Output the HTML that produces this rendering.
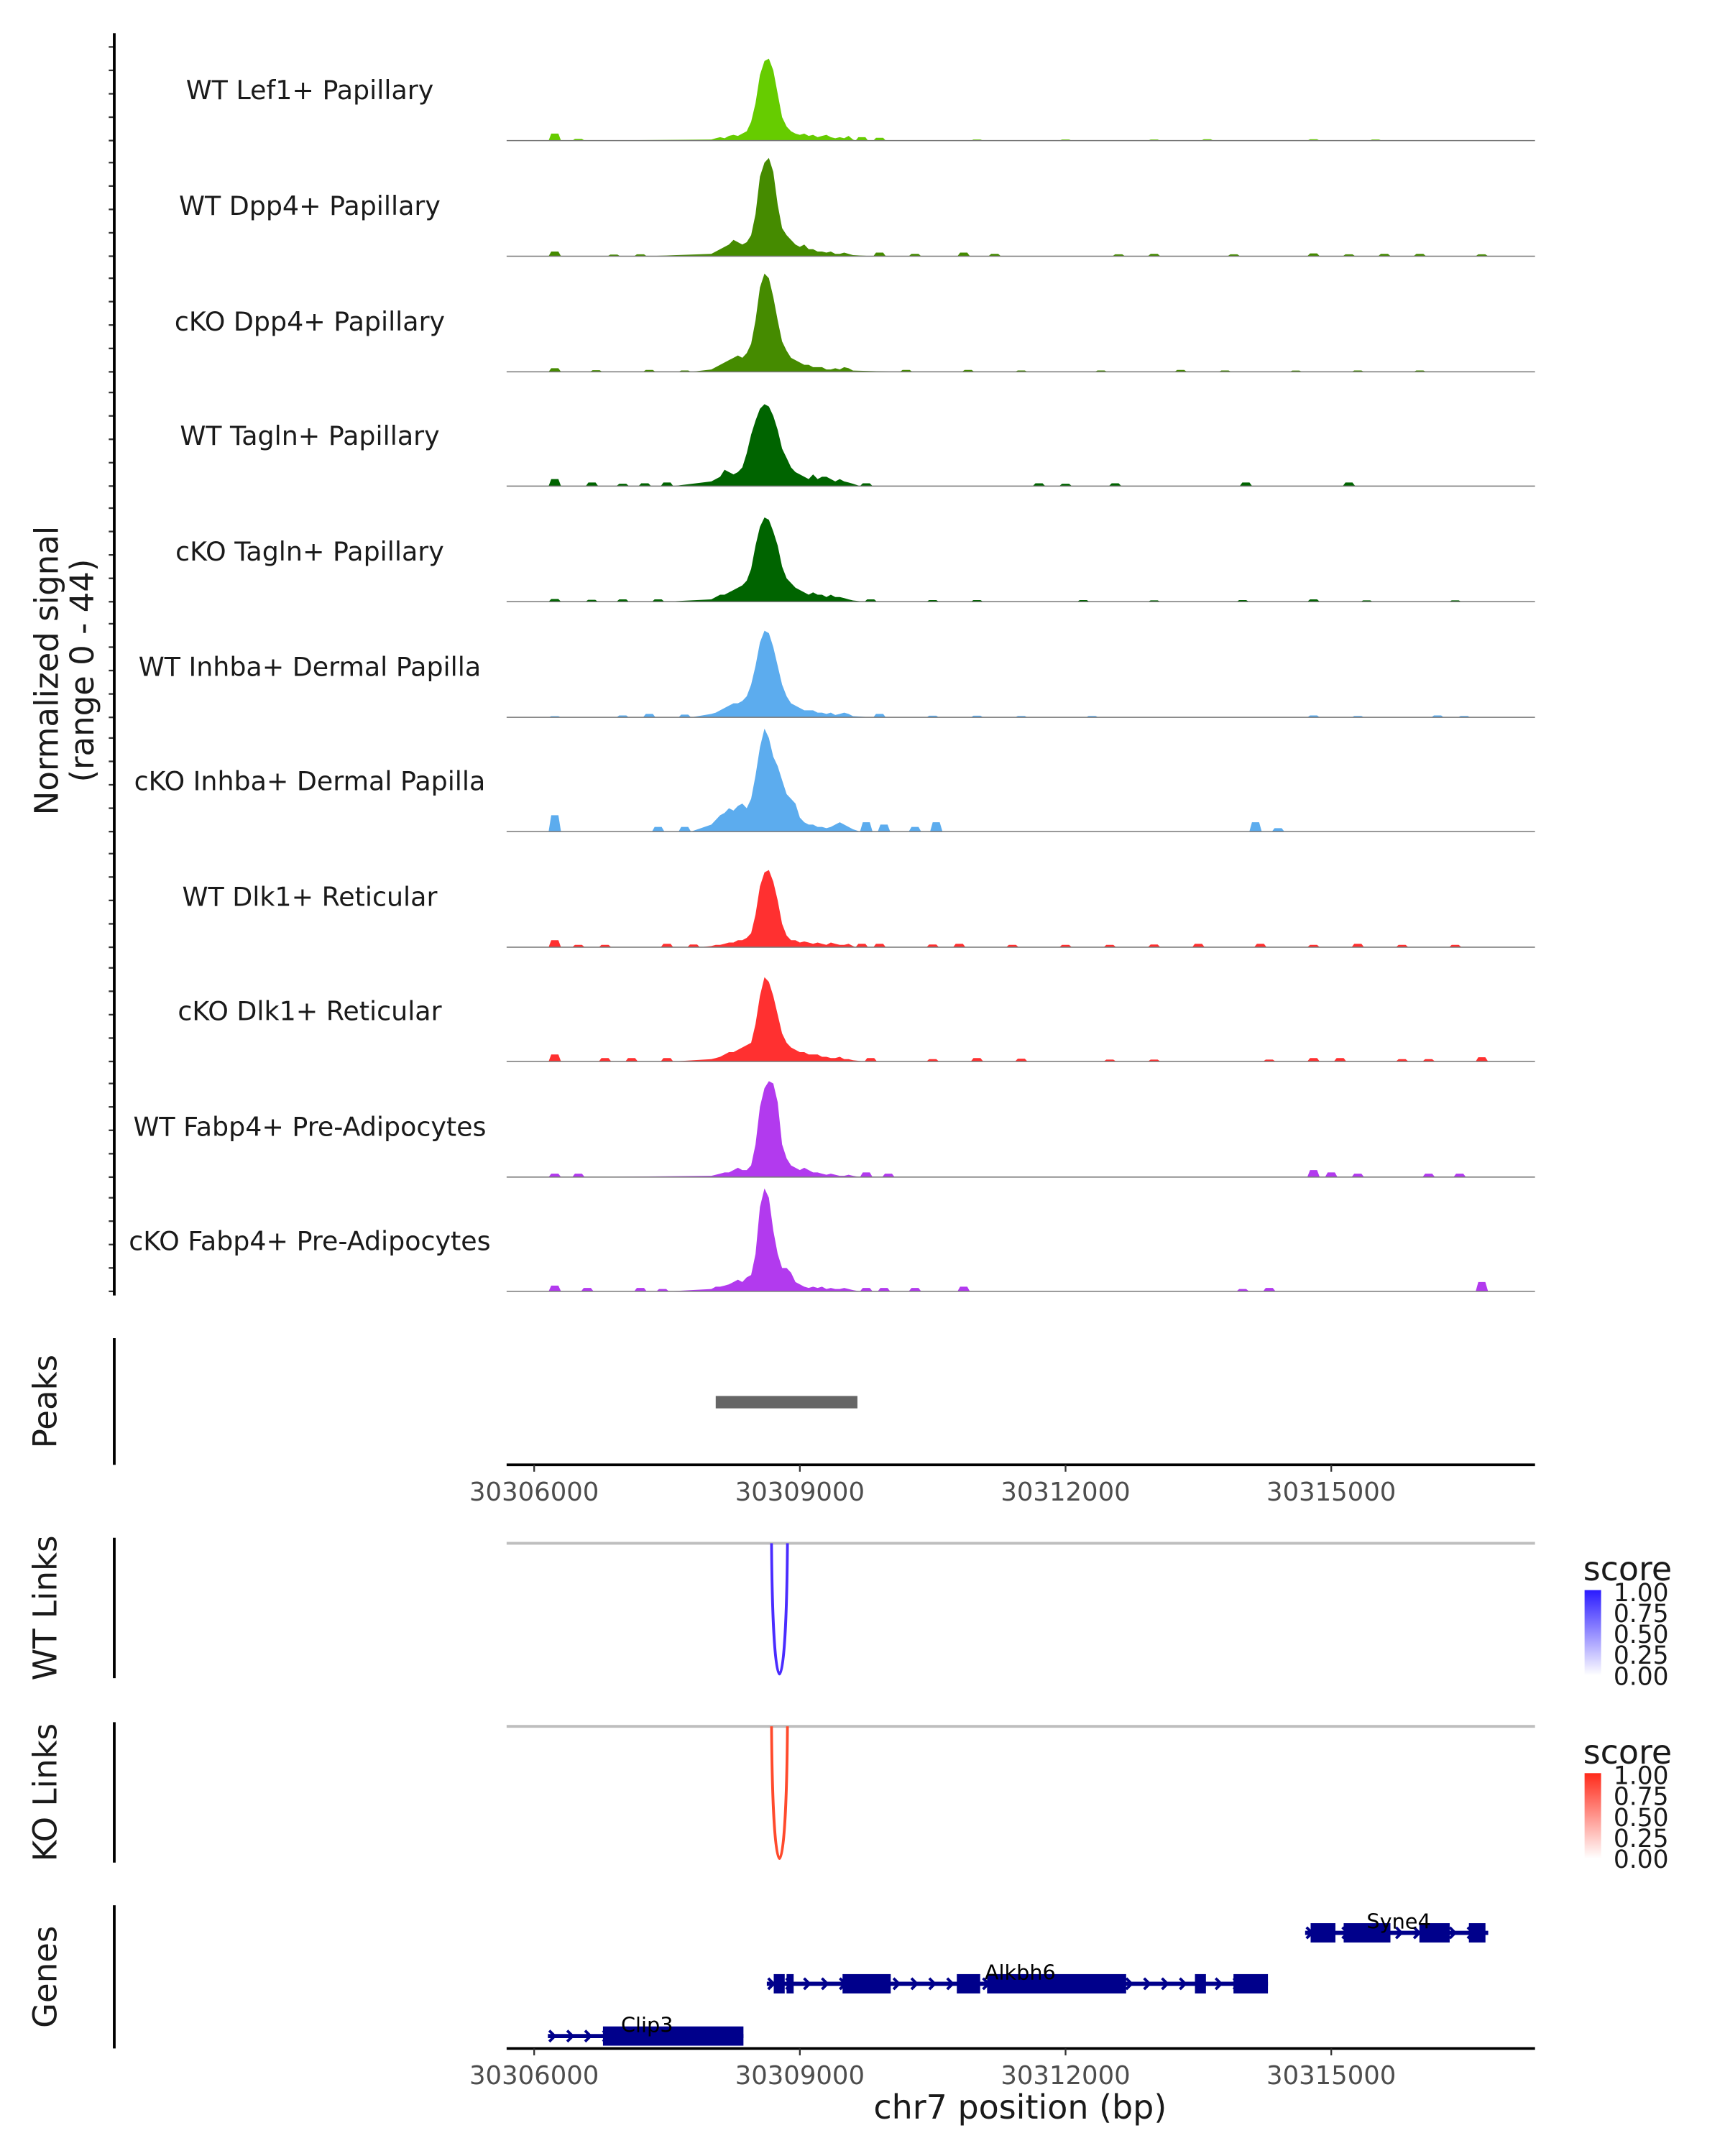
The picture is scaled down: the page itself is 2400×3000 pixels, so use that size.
<!DOCTYPE html>
<html><head><meta charset="utf-8"><style>
html,body{margin:0;padding:0;background:#fff}
svg{display:block}
text{font-family:"DejaVu Sans","Liberation Sans",sans-serif}
</style></head><body>
<svg id="chart" width="2400" height="3000" viewBox="0 0 1253 1566" xmlns="http://www.w3.org/2000/svg">
<rect width="1253" height="1566" fill="#fff"/>
<g id="tracks"></g>
<g id="axes"></g>
<g id="genes"></g>
<defs>
<linearGradient id="gb" x1="0" y1="1" x2="0" y2="0"><stop offset="0" stop-color="#ffffff"/><stop offset="1" stop-color="#2a1aff"/></linearGradient>
<linearGradient id="gr" x1="0" y1="1" x2="0" y2="0"><stop offset="0" stop-color="#ffffff"/><stop offset="1" stop-color="#ff2a1a"/></linearGradient>
</defs>
</svg>
<script>
// ---- data ----
const trackNames = ["WT Lef1+ Papillary","WT Dpp4+ Papillary","cKO Dpp4+ Papillary","WT Tagln+ Papillary","cKO Tagln+ Papillary","WT Inhba+ Dermal Papilla","cKO Inhba+ Dermal Papilla","WT Dlk1+ Reticular","cKO Dlk1+ Reticular","WT Fabp4+ Pre-Adipocytes","cKO Fabp4+ Pre-Adipocytes"];
const trackColors = ["#66cc00","#458b00","#458b00","#006400","#006400","#5cacee","#5cacee","#ff3030","#ff3030","#b23aee","#b23aee"];
const peakStart = 30308000, peakStep = 50;
const peakValues = [
[0.5,1,1.5,1,2,2.5,2,3,4,8,16,28,34,35,30,20,10,6,4,3,2.5,3,2,2.5,1.5,2,2.5,1.5,1,1.5,1,2,0.5],
[1,2,3,4,5,7,6,5,6,9,18,34,40,42,36,22,12,9,7,5,4,5,3,3,2,2,1.5,2,1,1,1.5,1,0.5],
[1,2,3,4,5,6,7,6,8,12,22,36,42,40,32,22,13,9,6,5,4,3,3,2,2,2,1,1,1.5,1,2,1.5,0.5],
[2,3,4,7,6,5,6,8,14,22,28,33,35,34,30,24,16,12,8,6,5,4,3,5,3,4,4,3,2,3,2,1.5,1],
[1,2,3,3,4,5,6,7,9,14,24,32,36,35,30,24,15,10,8,6,5,4,3,4,3,3,2,3,2,2,1.5,1,0.5],
[1.5,2,3,4,5,6,6,7,9,14,22,32,37,36,30,22,14,9,6,5,4,3,3,3,2,2,1.5,2,1,1.5,2,1.5,0.5],
[3,5,7,8,10,9,11,12,10,14,24,36,44,40,32,28,22,16,14,12,6,4,3,3,2,2,1.5,2,3,4,3,2,1],
[0.5,1,1,1.5,2,2,3,3,4,6,14,26,32,33,28,20,10,5,3,3,2,2.5,2,1.5,2,1.5,1,2,1.5,1,1,1.5,0.5],
[1,1.5,2,3,4,4,5,6,7,8,16,28,36,34,28,20,12,8,6,5,4,4,3,3,3,2,2,1.5,1.5,2,1,1,0.5],
[0.5,1,1.5,2,2,3,4,3,3,5,14,30,38,41,40,32,14,8,5,4,3,4,3,2,2,1.5,1,1.5,1,0.5,0.5,1,0.5],
[1,2,2,2.5,3,4,5,4,6,7,16,36,44,40,26,16,10,10,8,4,3,2,1.5,2,1.5,2,1,1.5,1,1,1.5,1,0.5]
];
const bumpPositions = [
[30306233,30306500,30309700,30309900,30311000,30312000,30313000,30313600,30314800,30315500],
[30306233,30306900,30307200,30309900,30310300,30310850,30311200,30312600,30313000,30313900,30314800,30315200,30315600,30316000,30316700],
[30306233,30306700,30307300,30307700,30310200,30310900,30311500,30312400,30313300,30313800,30314600,30315300,30316000],
[30306233,30306653,30307000,30307250,30307500,30309750,30311700,30312000,30312560,30314036,30315200],
[30306233,30306650,30307000,30307400,30309800,30310500,30311000,30312200,30313000,30314000,30314800,30315400,30316400],
[30306233,30307000,30307300,30307700,30309900,30310500,30311000,30311500,30312300,30314800,30315300,30316200,30316500],
[30306233,30307400,30307700,30309750,30309950,30310300,30310540,30314145,30314400],
[30306233,30306500,30306800,30307500,30307800,30309700,30309900,30310500,30310800,30311400,30312000,30312500,30313000,30313500,30314200,30314800,30315300,30315800,30316400],
[30306233,30306800,30307100,30307500,30309800,30310500,30311000,30311500,30312500,30313000,30314300,30314800,30315100,30315800,30316100,30316700],
[30306233,30306500,30309750,30310000,30314800,30315000,30315300,30316100,30316450],
[30306233,30306600,30307200,30307450,30309750,30309950,30310300,30310850,30314000,30314300,30316700]
];
const bumpHeights = [
[3,0.7,1.5,1.2,0.5,0.5,0.5,0.6,0.6,0.5],
[2,0.7,0.8,1.5,1,1.5,1,0.8,1,0.8,1.2,0.8,1,1,0.8],
[1.5,0.7,0.8,0.6,0.8,0.8,0.6,0.6,0.8,0.6,0.5,0.6,0.6],
[3,1.5,1,1.2,1.5,1.2,1.2,1,1.2,1.5,1.5],
[1.2,0.8,1,1,1,0.7,0.7,0.7,0.6,0.7,1,0.6,0.6],
[0.5,0.8,1.5,1.2,1.5,0.7,0.7,0.6,0.6,0.8,0.6,0.8,0.6],
[7,2,2,4,3,2,4,4,1.5],
[3,1,1,1.5,1.2,1.5,1.5,1.2,1.5,1,1,1,1.2,1.5,1.5,1,1.5,1,1],
[3,1.5,1.5,1.5,1.5,1,1.5,1.2,0.8,0.8,0.8,1.5,1.5,1,1,1.8],
[1.5,1.5,2,1.5,3,2,1.5,1.5,1.5],
[2.5,1.5,1.5,1,1.5,1.5,1.5,2,1,1.5,4]
];
const xTicks = [30306000,30309000,30312000,30315000];
const peakRegions = [[30308050,30309650]];
const linkStarts = [30308680]; const linkEnds = [30308860];
const geneNames = ["Syne4","Alkbh6","Clip3"];
const geneSpans = [[30314705,30316772],[30308627,30314285],[30306155,30308363]];
const geneExons = [
[[30314767,30315047],[30315140,30315668],[30315995,30316337],[30316554,30316741]],
[[30308705,30308829],[30308850,30308930],[30309482,30310026],[30310772,30311036],[30311114,30312684],[30313461,30313585],[30313896,30314285]],
[[30306777,30308363]]
];
const legendTicks = ["1.00","0.75","0.50","0.25","0.00"];

// ---- scales ----
const X0=368, X1=1115;
const x = bp => 388 + (bp-30306000)*193/3000;
const baselines = [102,186,270,353,437,521,604,688,771,855,938];
const unitPx = 1.7;
const NS="http://www.w3.org/2000/svg";
function mk(tag, attrs, parent){const e=document.createElementNS(NS,tag);for(const k in attrs)e.setAttribute(k,attrs[k]);parent.appendChild(e);return e;}
const tg=document.getElementById('tracks'), ag=document.getElementById('axes'), gg=document.getElementById('genes');

trackNames.forEach((name,i)=>{
  const b=baselines[i];
  let pts=[];
  peakValues[i].forEach((v,j)=>pts.push([peakStart+j*peakStep,v]));
  bumpPositions[i].forEach((p,j)=>{const h=bumpHeights[i][j];pts.push([p-70,0],[p-40,h],[p+40,h],[p+70,0]);});
  pts.sort((a,b)=>a[0]-b[0]);
  let d=`M${x(pts[0][0]).toFixed(1)},${b}`;
  pts.forEach(p=>{d+=` L${x(p[0]).toFixed(1)},${(b-p[1]*unitPx).toFixed(1)}`;});
  d+=` L${x(pts[pts.length-1][0]).toFixed(1)},${b} Z`;
  const area=mk('path',{d:d,fill:trackColors[i]},tg);
  
  
  const bl=mk('line',{x1:X0,x2:X1,y1:b,y2:b,stroke:'#777','stroke-width':0.8},tg);
  
  
  const t=mk('text',{x:225,y:b-30,'text-anchor':'middle','font-size':19,fill:'#1a1a1a'},tg);
  t.textContent=name;
  
  
  for(let k=0;k<5;k++){const yy=b-k*17;const tk=mk('line',{x1:79,x2:83,y1:yy,y2:yy,stroke:'#333','stroke-width':1.2},ag);
    
    }
});
[[24,941],[972,1064],[1117,1219],[1251,1353],[1384,1488]].forEach(s=>{const l=mk('line',{x1:83,x2:83,y1:s[0],y2:s[1],stroke:'#000','stroke-width':2},ag);
  
  });
function rotText(txt,cx,cy,size,nm){const t=mk('text',{x:0,y:0,transform:`translate(${cx},${cy}) rotate(-90)`,'text-anchor':'middle','font-size':size,fill:'#1a1a1a'},ag);t.textContent=txt;
  
  return t;}
const yt=mk('text',{transform:'translate(42,487) rotate(-90)','text-anchor':'middle','font-size':23.5,fill:'#1a1a1a'},ag);


mk('tspan',{x:0,y:0},yt).textContent='Normalized signal';
mk('tspan',{x:0,y:26},yt).textContent='(range 0 - 44)';
rotText('Peaks',41,1018,23.5,'peaks-label');
rotText('WT Links',41,1168,23.5,'wt-links-label');
rotText('KO Links',41,1302,23.5,'ko-links-label');
rotText('Genes',41,1436,23.5,'genes-label');

peakRegions.forEach(r=>{const p=mk('rect',{x:x(r[0]),y:1014,width:x(r[1])-x(r[0]),height:9,fill:'#666'},ag);
  
  });
function xAxis(y,nm){const l=mk('line',{x1:X0,x2:X1,y1:y,y2:y,stroke:'#000','stroke-width':2},ag);
  
  
  xTicks.forEach(v=>{const tk=mk('line',{x1:x(v),x2:x(v),y1:y,y2:y+5,stroke:'#333','stroke-width':1.2},ag);
    
    
    const t=mk('text',{x:x(v),y:y+26,'text-anchor':'middle','font-size':18.5,fill:'#4d4d4d'},ag);t.textContent=v;
    
    });}
xAxis(1064,'peaks-x-axis');
xAxis(1488,'genes-x-axis');
const xt=mk('text',{x:741,y:1539,'text-anchor':'middle','font-size':24,fill:'#1a1a1a'},ag);xt.textContent='chr7 position (bp)';



function links(top,bottom,color,grad,nm){const l=mk('line',{x1:X0,x2:X1,y1:top,y2:top,stroke:'#bebebe','stroke-width':2},ag);
  
  
  linkStarts.forEach((s,i)=>{const a=x(s),b=x(linkEnds[i]);const c=top+(bottom-top)*4/3;
    const p=mk('path',{d:`M${a},${top} C${a+1},${c} ${b-1},${c} ${b},${top}`,fill:'none',stroke:color,'stroke-width':2},ag);
    
    });
  const lg=top+10;
  const st=mk('text',{x:1150,y:lg+17,'font-size':24,fill:'#1a1a1a'},ag);st.textContent='score';
  
  
  const cb=mk('rect',{x:1151,y:lg+24,width:12,height:62,fill:`url(#${grad})`},ag);
  
  
  legendTicks.forEach((t,k)=>{const yy=lg+25+k*15.2;const tx=mk('text',{x:1172,y:yy+7,'font-size':18,fill:'#1a1a1a'},ag);tx.textContent=t;
    
    });}
links(1121,1216,'#4a2cff','gb','wt-links');
links(1254,1350,'#ff4a2c','gr','ko-links');

const geneY=[1404,1441,1479];
geneNames.forEach((g,i)=>{const y=geneY[i];const sp=geneSpans[i];
  const l=mk('line',{x1:x(sp[0]),x2:x(sp[1]),y1:y,y2:y,stroke:'#00008b','stroke-width':3},gg);
  
  
  for(let p=x(sp[0])+3;p<x(sp[1]);p+=13){const c=mk('path',{d:`M${p-2},${y-4} L${p+2},${y} L${p-2},${y+4}`,fill:'none',stroke:'#00008b','stroke-width':2},gg);
    
    }
  geneExons[i].forEach(e=>{const r=mk('rect',{x:x(e[0]),y:y-7,width:x(e[1])-x(e[0]),height:14,fill:'#00008b'},gg);
    
    });
  const t=mk('text',{x:(i==0?1016:i==1?741:470),y:y-3,'text-anchor':'middle','font-size':15,fill:'#000'},gg);t.textContent=g;
  
  
});
</script>
</body></html>
